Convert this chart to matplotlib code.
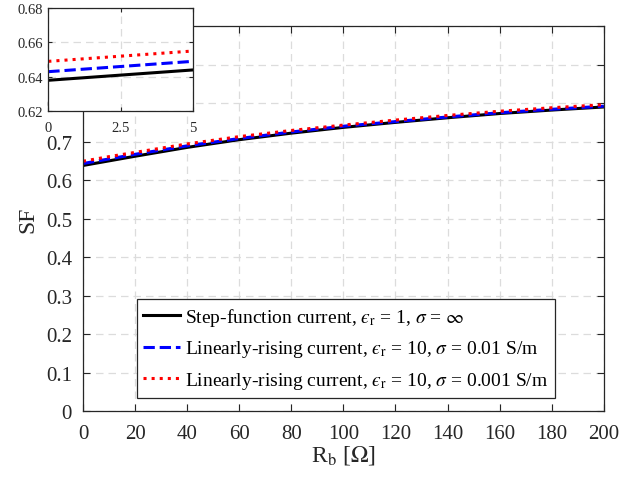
import matplotlib
matplotlib.use("Agg")
import matplotlib.pyplot as plt
import numpy as np

plt.rcParams["font.family"] = ["Liberation Serif", "DejaVu Serif"]
plt.rcParams["mathtext.fontset"] = "stix"

# shielding factor vs bonding resistance
rb = [0, 2.5, 5, 10, 20, 40, 60, 80, 100, 120, 140, 160, 180, 200]
sf_step = [0.638, 0.641, 0.644, 0.650, 0.662, 0.685, 0.705, 0.722, 0.737,
           0.750, 0.762, 0.773, 0.782, 0.790]
sf_lin_001 = [0.643, 0.646, 0.649, 0.655, 0.667, 0.689, 0.708, 0.725, 0.740,
              0.752, 0.764, 0.775, 0.784, 0.792]
sf_lin_0001 = [0.649, 0.652, 0.655, 0.661, 0.672, 0.694, 0.713, 0.729, 0.743,
               0.756, 0.768, 0.779, 0.788, 0.796]

labels = [
    "Step-function current, $\u03f5_{\\rm r}$ = 1, $\\sigma$ = $\\infty$",
    "Linearly-rising current, $\u03f5_{\\rm r}$ = 10, $\\sigma$ = 0.01 S/m",
    "Linearly-rising current, $\u03f5_{\\rm r}$ = 10, $\\sigma$ = 0.001 S/m",
]

C_AX = "#262626"
C_GRID = "#dcdcdc"


def style_axes(ax, fs):
    ax.tick_params(direction="in", top=True, right=True, colors=C_AX,
                   labelsize=fs, length=5, width=0.8)
    for s in ax.spines.values():
        s.set_color(C_AX)
        s.set_linewidth(0.9)
    ax.grid(True, color=C_GRID, ls=(0, (6, 4)), lw=0.9)
    ax.set_axisbelow(True)


def draw_curves(ax):
    ax.plot(rb, sf_step, "-", color="black", lw=2.2, label=labels[0])
    ax.plot(rb, sf_lin_001, "--", color="blue", lw=2.2, label=labels[1])
    ax.plot(rb, sf_lin_0001, ":", color="red", lw=2.2, label=labels[2])


fig = plt.figure(figsize=(6.41, 4.85), dpi=100)
ax = fig.add_axes([0.1295, 0.1505, 0.8125, 0.7935])
draw_curves(ax)
ax.set_xlim(0, 200)
ax.set_ylim(0, 1)
ax.set_xticks(np.arange(0, 201, 20))
ax.set_yticks(np.round(np.arange(0, 1.01, 0.1), 1))
ax.set_yticklabels(["0"] + [f"{v:.1f}" for v in np.arange(0.1, 0.95, 0.1)] + ["1"])
style_axes(ax, 15)
ax.tick_params(axis="x", pad=9)
ax.tick_params(axis="y", pad=8)
ax.set_xlabel(r"R$_{\rm b}$ [$\Omega$]", fontsize=17, color=C_AX, labelpad=0)
ax.set_ylabel("SF", fontsize=17, color=C_AX, labelpad=5)

leg = ax.legend(loc="lower center", bbox_to_anchor=(0.505, 0.034), fontsize=14,
                handlelength=1.9, handletextpad=0.25, labelspacing=0.55,
                borderpad=0.35, borderaxespad=0, fancybox=False, framealpha=1)
leg.get_frame().set_edgecolor(C_AX)
leg.get_frame().set_linewidth(0.9)

# zoomed view of the low-resistance end
ins = fig.add_axes([0.0754, 0.7685, 0.2253, 0.213])
ins.set_facecolor("white")
draw_curves(ins)
ins.set_xlim(0, 5)
ins.set_ylim(0.62, 0.68)
ins.set_xticks([0, 2.5, 5])
ins.set_xticklabels(["0", "2.5", "5"])
ins.set_yticks([0.62, 0.64, 0.66, 0.68])
style_axes(ins, 10.5)
ins.tick_params(length=3)
ins.tick_params(axis="x", pad=7)

fig.savefig("out.png", dpi=100)
